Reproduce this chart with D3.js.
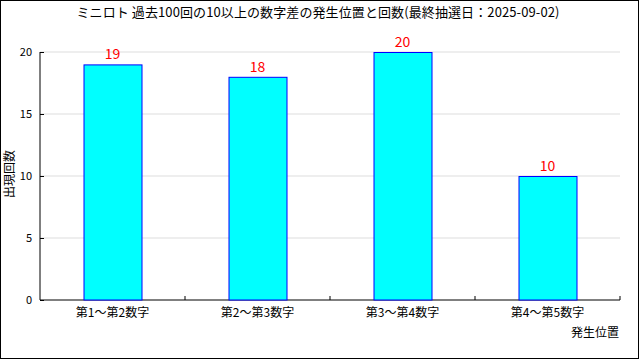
<html>
<body style="margin:0">
<svg width="640" height="360"></svg>
<style>
  text { font-family: "Noto Sans CJK JP", "DejaVu Sans", sans-serif; }
  .grid line { stroke: #dddddd; }
</style>
<script src="https://d3js.org/d3.v7.min.js"></script>
<script>
var categories = ["第1～第2数字", "第2～第3数字", "第3～第4数字", "第4～第5数字"];
var counts = [19, 18, 20, 10];
var yTicks = [0, 5, 10, 15, 20];

var svg = d3.select("svg");
var margin = {top: 52, right: 20, bottom: 60, left: 40},
    width = 640 - margin.left - margin.right,
    height = 360 - margin.top - margin.bottom;

svg.append("rect")
  .attr("x", 0.5).attr("y", 0.5).attr("width", 638).attr("height", 358)
  .attr("fill", "#fff").attr("stroke", "#000");

svg.append("text")
  .attr("x", 318).attr("y", 17)
  .attr("text-anchor", "middle")
  .attr("font-size", 13)
  .attr("letter-spacing", 0.1)
  .text("ミニロト 過去100回の10以上の数字差の発生位置と回数(最終抽選日：2025-09-02)");

var g = svg.append("g")
  .attr("transform", "translate(" + margin.left + "," + margin.top + ")");

var x = d3.scaleBand().domain(categories).range([0, width]).paddingInner(0);
var y = d3.scaleLinear().domain([0, 20]).range([height, 0]);

// grid
g.append("g").attr("class", "grid")
  .selectAll("line").data(yTicks.slice(1)).enter().append("line")
  .attr("x1", 0).attr("x2", width)
  .attr("y1", function (d) { return y(d); })
  .attr("y2", function (d) { return y(d); });

// y axis
var ya = g.append("g")
  .call(d3.axisLeft(y).tickValues(yTicks).tickSize(-4).tickPadding(8));
ya.select(".domain").attr("d", "M0," + height + "V0");
ya.selectAll("text").attr("font-size", 11).attr("font-family", "DejaVu Sans");

// x axis
var xa = g.append("g")
  .attr("transform", "translate(0," + height + ")")
  .call(d3.axisBottom(x).tickSize(0).tickPadding(8));
xa.select(".domain").attr("d", "M0,0H" + width);
xa.selectAll("text").attr("font-size", 12);
xa.selectAll(".sep")
  .data(categories.slice(1).concat([null])).enter().append("line")
  .attr("class", "sep")
  .attr("x1", function (d, i) { return x.step() * (i + 1); })
  .attr("x2", function (d, i) { return x.step() * (i + 1); })
  .attr("y1", 0).attr("y2", -4)
  .attr("stroke", "#000");

// bars
var bw = x.bandwidth() * 0.4;
g.selectAll(".bar")
  .data(counts).enter().append("rect")
  .attr("class", "bar")
  .attr("x", function (d, i) { return x(categories[i]) + (x.bandwidth() - bw) / 2 + 0.5; })
  .attr("y", function (d) { return y(d) + 0.5; })
  .attr("width", bw)
  .attr("height", function (d) { return height - y(d) - 0.5; })
  .attr("fill", "#00ffff")
  .attr("stroke", "#0000ff");

g.selectAll(".val")
  .data(counts).enter().append("text")
  .attr("x", function (d, i) { return x(categories[i]) + x.bandwidth() / 2; })
  .attr("y", function (d) { return y(d) - 5; })
  .attr("text-anchor", "middle")
  .attr("fill", "#ff0000")
  .attr("font-size", 14)
  .attr("font-family", "DejaVu Sans")
  .text(function (d) { return d; });

// axis labels
svg.append("text")
  .attr("transform", "translate(14,174) rotate(-90)")
  .attr("text-anchor", "middle")
  .attr("font-size", 12)
  .text("出現回数");

svg.append("text")
  .attr("x", 619).attr("y", 337)
  .attr("text-anchor", "end")
  .attr("font-size", 12)
  .text("発生位置");
</script>
</body>
</html>
